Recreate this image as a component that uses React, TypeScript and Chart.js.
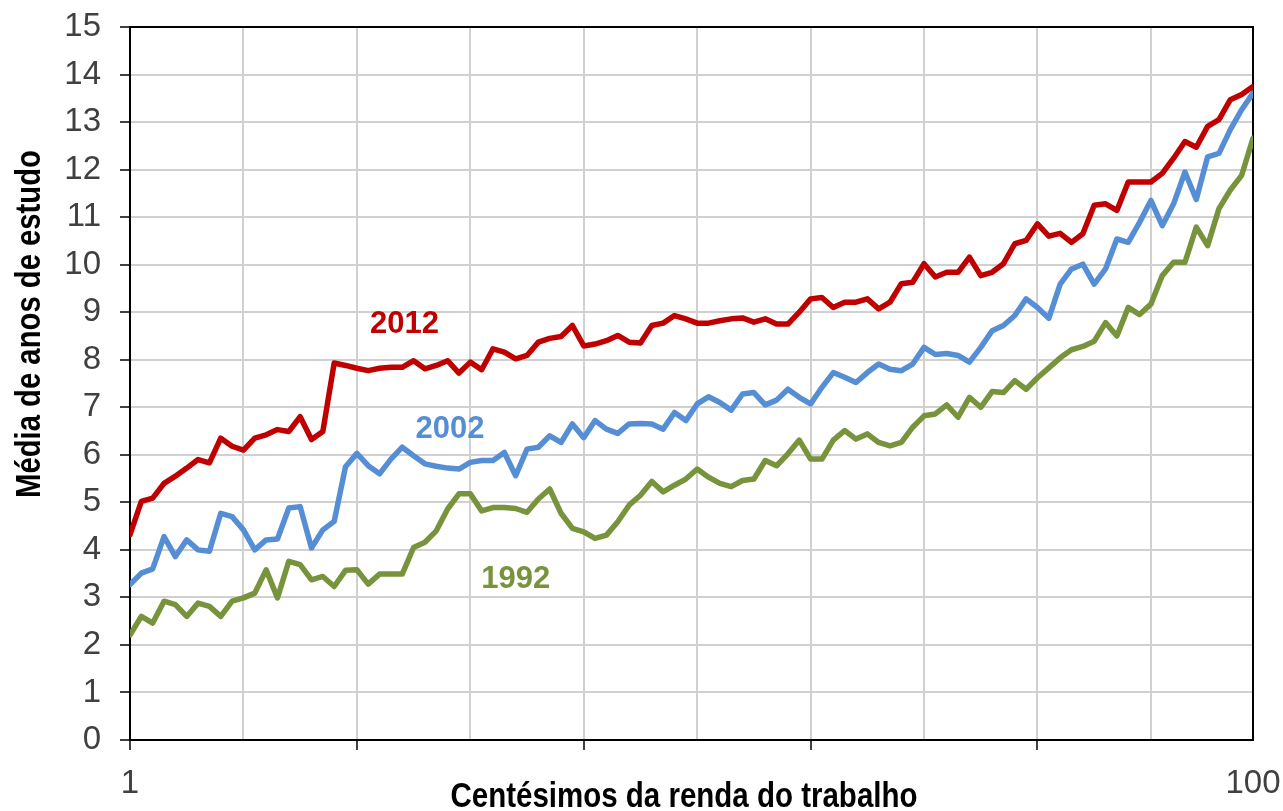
import React, { useEffect, useRef } from 'react';
import { Chart, registerables } from 'chart.js';

Chart.register(...registerables);

// Centésimos (1..100)
const percentiles: number[] = Array.from({ length: 100 }, (_, i) => i + 1);

const series2012: number[] = [
  4.32, 5.02, 5.09, 5.40, 5.55, 5.72, 5.90, 5.83, 6.35, 6.18,
  6.10, 6.35, 6.42, 6.53, 6.49, 6.80, 6.32, 6.49, 7.93, 7.88,
  7.82, 7.77, 7.82, 7.84, 7.84, 7.98, 7.81, 7.88, 7.98, 7.72,
  7.95, 7.79, 8.23, 8.16, 8.02, 8.09, 8.37, 8.45, 8.49, 8.72,
  8.29, 8.33, 8.40, 8.51, 8.37, 8.35, 8.72, 8.77, 8.93, 8.86,
  8.77, 8.77, 8.82, 8.86, 8.88, 8.79, 8.86, 8.75, 8.75, 9.00,
  9.28, 9.31, 9.10, 9.21, 9.21, 9.28, 9.07, 9.21, 9.60, 9.63,
  10.02, 9.74, 9.84, 9.84, 10.16, 9.77, 9.84, 10.02, 10.44, 10.51,
  10.86, 10.60, 10.66, 10.47, 10.65, 11.25, 11.28, 11.14, 11.74, 11.74,
  11.74, 11.92, 12.24, 12.59, 12.47, 12.91, 13.05, 13.47, 13.58, 13.75,
];

const series2002: number[] = [
  3.27, 3.51, 3.60, 4.28, 3.86, 4.21, 4.00, 3.97, 4.77, 4.70,
  4.42, 4.00, 4.21, 4.23, 4.88, 4.91, 4.04, 4.42, 4.60, 5.75,
  6.03, 5.77, 5.60, 5.91, 6.16, 5.98, 5.81, 5.76, 5.72, 5.70,
  5.84, 5.88, 5.88, 6.05, 5.56, 6.12, 6.16, 6.40, 6.26, 6.65,
  6.36, 6.72, 6.54, 6.45, 6.65, 6.66, 6.65, 6.54, 6.89, 6.72,
  7.07, 7.22, 7.10, 6.94, 7.28, 7.31, 7.05, 7.15, 7.38, 7.21,
  7.07, 7.42, 7.73, 7.63, 7.52, 7.73, 7.91, 7.80, 7.77, 7.91,
  8.26, 8.11, 8.13, 8.09, 7.95, 8.26, 8.61, 8.72, 8.93, 9.28,
  9.10, 8.87, 9.59, 9.91, 10.01, 9.59, 9.91, 10.54, 10.47, 10.89,
  11.35, 10.82, 11.28, 11.95, 11.37, 12.27, 12.34, 12.84, 13.26, 13.61,
];

const series1992: number[] = [
  2.21, 2.60, 2.46, 2.92, 2.85, 2.60, 2.88, 2.81, 2.60, 2.92,
  2.99, 3.09, 3.58, 2.99, 3.76, 3.69, 3.37, 3.44, 3.23, 3.57,
  3.58, 3.28, 3.49, 3.49, 3.49, 4.05, 4.16, 4.40, 4.86, 5.18,
  5.18, 4.82, 4.89, 4.89, 4.87, 4.79, 5.07, 5.28, 4.77, 4.45,
  4.38, 4.24, 4.31, 4.59, 4.94, 5.15, 5.44, 5.22, 5.36, 5.49,
  5.70, 5.53, 5.40, 5.33, 5.46, 5.49, 5.88, 5.77, 6.02, 6.31,
  5.91, 5.91, 6.31, 6.51, 6.33, 6.44, 6.26, 6.19, 6.26, 6.58,
  6.82, 6.86, 7.05, 6.79, 7.21, 7.00, 7.33, 7.31, 7.56, 7.38,
  7.62, 7.83, 8.04, 8.21, 8.28, 8.39, 8.78, 8.50, 9.10, 8.95,
  9.17, 9.77, 10.05, 10.05, 10.79, 10.40, 11.18, 11.57, 11.88, 12.66,
];

const seriesNames: string[] = ['2012', '2002', '1992'];
const seriesColors: string[] = ['#C00000', '#558ED5', '#77933C'];

// x-axis tick positions (grid every 10 centésimos) and labels shown
const xTickValues: number[] = [1, 11, 21, 31, 41, 51, 61, 71, 81, 91, 100];
const xLabelValues: number[] = [1, 100];
const xTickMarkValues: number[] = [1, 21, 41, 61, 81];

// in-chart series labels (data coordinates)
const labelX: number[] = [25.2, 29.2, 35.0];
const labelY: number[] = [8.75, 6.54, 3.37];

const xTitle = 'Centésimos da renda do trabalho';
const yTitle = 'Média de anos de estudo';

const NARROW = "'Liberation Sans Narrow', 'Arial Narrow', 'Liberation Sans', Arial, sans-serif";
const WIDE = "'Liberation Sans', Arial, sans-serif";

const framePlugin = {
  id: 'frame',
  beforeDatasetsDraw(chart: any) {
    const { ctx, chartArea } = chart;
    ctx.save();
    ctx.strokeStyle = '#000';
    ctx.lineWidth = 2;
    ctx.strokeRect(chartArea.left, chartArea.top, chartArea.right - chartArea.left, chartArea.bottom - chartArea.top);
    ctx.restore();
  },
};

function condensedText(ctx: any, text: string, cx: number, cy: number, targetWidth: number, rotate: boolean) {
  const w = ctx.measureText(text).width;
  const s = Math.min(1, targetWidth / w);
  ctx.save();
  ctx.translate(cx, cy);
  if (rotate) ctx.rotate(-Math.PI / 2);
  ctx.scale(s, 1);
  ctx.fillText(text, 0, 0);
  ctx.restore();
}

const textPlugin = {
  id: 'texts',
  afterDraw(chart: any) {
    const { ctx, scales } = chart;
    ctx.save();
    // series labels
    ctx.font = `bold 31px ${WIDE}`;
    ctx.textAlign = 'center';
    ctx.textBaseline = 'middle';
    seriesNames.forEach((name, i) => {
      ctx.fillStyle = seriesColors[i];
      ctx.fillText(name, scales.x.getPixelForValue(labelX[i]), scales.y.getPixelForValue(labelY[i]));
    });
    // axis titles
    ctx.fillStyle = '#000';
    ctx.font = `bold 35px ${NARROW}`;
    ctx.textAlign = 'center';
    ctx.textBaseline = 'alphabetic';
    condensedText(ctx, xTitle, 684, 807, 467, false);
    condensedText(ctx, yTitle, 40, 324, 348, true);
    ctx.restore();
  },
};

export default function App() {
  const ref = useRef<HTMLCanvasElement>(null);
  useEffect(() => {
    const datasets = [series2012, series2002, series1992].map((vals, i) => ({
      label: seriesNames[i],
      data: vals.map((v, j) => ({ x: percentiles[j], y: v })),
      borderColor: seriesColors[i],
      backgroundColor: seriesColors[i],
      borderWidth: 5.5,
      pointRadius: 0,
      tension: 0,
      borderJoinStyle: 'round' as const,
      borderCapStyle: 'round' as const,
      fill: false,
    }));
    const chart = new Chart(ref.current!, {
      type: 'line',
      data: { datasets },
      options: {
        animation: false,
        responsive: false,
        devicePixelRatio: 1,
        layout: { padding: { left: 0, top: 27, right: 30, bottom: 0 } },
        plugins: { legend: { display: false }, tooltip: { enabled: false } },
        scales: {
          x: {
            type: 'linear',
            min: 1,
            max: 100,
            afterBuildTicks: (s: any) => {
              s.ticks = xTickValues.map((v) => ({ value: v }));
            },
            afterFit: (s: any) => {
              s.height = 71;
              s.paddingLeft = 0;
              s.paddingRight = 0;
            },
            ticks: {
              autoSkip: false,
              maxRotation: 0,
              minRotation: 0,
              padding: 14,
              color: '#404040',
              font: { family: NARROW, size: 33 },
              callback: (v: any) => (xLabelValues.includes(Number(v)) ? String(v) : ''),
            },
            grid: {
              color: (c: any) => (c.tick && (c.tick.value === 1 || c.tick.value === 100) ? 'rgba(0,0,0,0)' : '#d0d0d0'),
              lineWidth: 2,
              tickLength: 10,
              tickWidth: 2,
              tickColor: (c: any) => (c.tick && xTickMarkValues.includes(c.tick.value) ? '#404040' : 'rgba(0,0,0,0)'),
            },
            border: { color: '#000', width: 2 },
          },
          y: {
            type: 'linear',
            min: 0,
            max: 15,
            afterFit: (s: any) => {
              s.width = 130;
              s.paddingTop = 0;
              s.paddingBottom = 0;
            },
            ticks: {
              stepSize: 1,
              padding: 19,
              color: '#404040',
              font: { family: NARROW, size: 33 },
            },
            grid: {
              color: '#d0d0d0',
              lineWidth: 2,
              tickLength: 10,
              tickWidth: 2,
              tickColor: '#404040',
            },
            border: { color: '#000', width: 2 },
          },
        },
      },
      plugins: [framePlugin, textPlugin],
    });
    return () => chart.destroy();
  }, []);
  return (
    <div style={{ position: 'fixed', left: 0, top: 0, width: 1283, height: 811, background: '#fff' }}>
      <canvas ref={ref} width={1283} height={811} style={{ display: 'block' }} />
    </div>
  );
}
